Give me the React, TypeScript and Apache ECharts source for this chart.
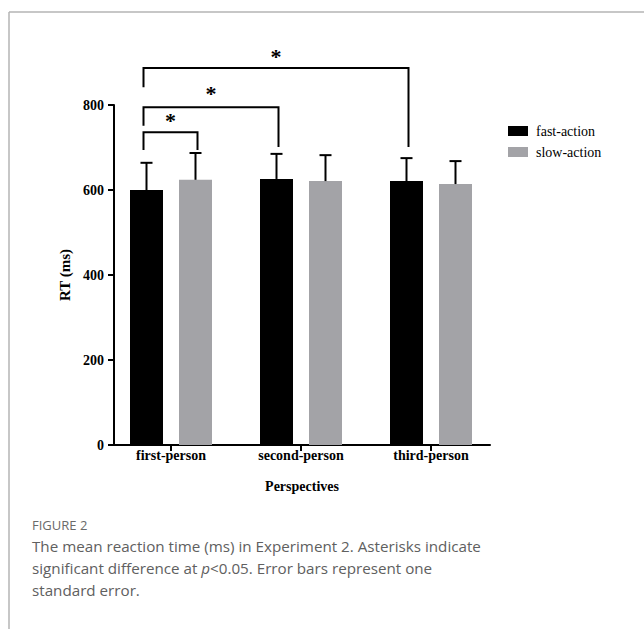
import React, { useEffect, useRef } from "react";
import * as echarts from "echarts";

const categories = ["first-person", "second-person", "third-person"];
const fastMean = [600, 626, 621];
const fastSE = [64, 59, 54];
const slowMean = [624, 621, 614];
const slowSE = [63, 61, 54];
const yTicks = { min: 0, max: 800, interval: 200 };
// [fromCat, fromSeries(0 fast / 1 slow), toCat, toSeries, leftFoot, top, rightFoot, starY]
const brackets = [
  [0, 0, 0, 1, 694, 736, 694, 769],
  [0, 0, 1, 0, 751, 795, 701, 831],
  [0, 0, 2, 0, 842, 887, 701, 920],
];
const legendNames = ["fast-action", "slow-action"];
const captionTitle = "FIGURE 2";
const captionLines = [
  "The mean reaction time (ms) in Experiment 2. Asterisks indicate",
  "significant difference at {i|p}<0.05. Error bars represent one",
  "standard error.",
];

const SERIF = "'Liberation Serif', 'Times New Roman', serif";
const SANS = "'Open Sans', 'Noto Sans', sans-serif";
const FAST = "#000000";
const SLOW = "#a3a3a7";
const BAR_W = 33;
const OFFSET = 24.5;

function barSeries(name: string, means: number[], se: number[], color: string, side: number) {
  return {
    name,
    type: "custom",
    coordinateSystem: "cartesian2d",
    clip: false,
    itemStyle: { color },
    data: means.map((m, i) => [i, m, m + se[i]]),
    renderItem: (params: any, api: any) => {
      const c = api.value(0);
      const top = api.coord([c, api.value(1)]);
      const base = api.coord([c, 0]);
      const err = api.coord([c, api.value(2)]);
      const cx = top[0] + side * OFFSET;
      return {
        type: "group",
        children: [
          {
            type: "rect",
            shape: { x: cx - BAR_W / 2, y: top[1], width: BAR_W, height: base[1] - top[1] },
            style: { fill: color },
          },
          {
            type: "line",
            shape: { x1: cx, y1: top[1], x2: cx, y2: err[1] },
            style: { stroke: "#000", lineWidth: 2 },
          },
          {
            type: "line",
            shape: { x1: cx - 6, y1: err[1], x2: cx + 6, y2: err[1] },
            style: { stroke: "#000", lineWidth: 2 },
          },
        ],
      };
    },
  };
}

export default function App() {
  const ref = useRef<HTMLDivElement>(null);
  useEffect(() => {
    if (!ref.current) return;
    const chart = echarts.init(ref.current, undefined, { renderer: "svg" });
    const option: any = {
      animation: false,
      backgroundColor: "#ffffff",
      grid: { left: 114, right: 154, top: 105, bottom: 184, containLabel: false },
      legend: {
        orient: "vertical",
        left: 503,
        top: 119,
        itemWidth: 20,
        itemHeight: 10,
        itemGap: 7,
        icon: "rect",
        data: legendNames,
        selectedMode: false,
        textStyle: { fontFamily: SERIF, fontSize: 14, color: "#000", padding: [0, 0, 0, 3] },
      },
      xAxis: {
        type: "value",
        min: -57 / 130,
        max: 319 / 130,
        name: "Perspectives",
        nameLocation: "middle",
        nameGap: 34,
        nameTextStyle: { fontFamily: SERIF, fontSize: 14, fontWeight: "bold", color: "#000" },
        axisLine: { show: true, onZero: false, lineStyle: { color: "#000", width: 2 } },
        axisTick: {
          show: true,
          inside: false,
          length: 6,
          lineStyle: { color: "#000", width: 2 },
          customValues: [0, 1, 2],
        },
        axisLabel: {
          customValues: [0, 1, 2],
          formatter: (v: number) => categories[Math.round(v)] ?? "",
          fontFamily: SERIF,
          fontSize: 14,
          fontWeight: "bold",
          color: "#000",
          margin: 3,
        },
        splitLine: { show: false },
      },
      yAxis: {
        type: "value",
        min: yTicks.min,
        max: yTicks.max,
        interval: yTicks.interval,
        name: "RT (ms)",
        nameLocation: "middle",
        nameGap: 38,
        nameTextStyle: { fontFamily: SERIF, fontSize: 15, fontWeight: "bold", color: "#000" },
        axisLine: { show: true, onZero: false, lineStyle: { color: "#000", width: 2 } },
        axisTick: { show: true, inside: false, length: 6, lineStyle: { color: "#000", width: 2 } },
        axisLabel: { fontFamily: SERIF, fontSize: 14, fontWeight: "bold", color: "#000", margin: 10 },
        splitLine: { show: false },
      },
      series: [
        barSeries(legendNames[0], fastMean, fastSE, FAST, -1),
        barSeries(legendNames[1], slowMean, slowSE, SLOW, 1),
        {
          type: "custom",
          coordinateSystem: "cartesian2d",
          clip: false,
          silent: true,
          data: brackets,
          renderItem: (params: any, api: any) => {
            const fc = api.value(0), fs = api.value(1), tc = api.value(2), ts = api.value(3);
            const lf = api.coord([fc, api.value(4)]);
            const tp = api.coord([fc, api.value(5)]);
            const rf = api.coord([tc, api.value(6)]);
            const st = api.coord([fc, api.value(7)]);
            const x1 = lf[0] + (fs === 0 ? -OFFSET : OFFSET) - 3;
            const x2 = rf[0] + (ts === 0 ? -OFFSET : OFFSET) + 2;
            return {
              type: "group",
              children: [
                {
                  type: "polyline",
                  shape: { points: [[x1, lf[1]], [x1, tp[1]], [x2, tp[1]], [x2, rf[1]]] },
                  style: { stroke: "#000", lineWidth: 2, fill: "none" },
                },
                {
                  type: "text",
                  x: (x1 + x2) / 2,
                  y: st[1] + 2,
                  style: {
                    text: "*",
                    fontFamily: SERIF,
                    fontSize: 22,
                    fontWeight: "bold",
                    fill: "#000",
                    align: "center",
                    verticalAlign: "middle",
                  },
                },
              ],
            };
          },
        },
      ],
      graphic: [
        { type: "line", shape: { x1: 9, y1: 12, x2: 644, y2: 12 }, style: { stroke: "#b4b4b4", lineWidth: 1.5 } },
        { type: "line", shape: { x1: 9, y1: 12, x2: 9, y2: 629 }, style: { stroke: "#b4b4b4", lineWidth: 1.5 } },
        {
          type: "text",
          left: 32,
          top: 518,
          style: { text: captionTitle, fontFamily: SANS, fontSize: 13, fill: "#6a6a6a" },
        },
        ...captionLines.map((t, i) => ({
          type: "text",
          left: 32,
          top: 538 + i * 22,
          style: {
            text: t,
            fontFamily: SANS,
            fontSize: 15.2,
            fill: "#606060",
            rich: { i: { fontFamily: SANS, fontSize: 15.2, fontStyle: "italic", fill: "#606060" } },
          },
        })),
      ],
    };
    chart.setOption(option);
    return () => chart.dispose();
  }, []);
  return (
    <div
      ref={ref}
      style={{ position: "fixed", left: 0, top: 0, width: 644, height: 629 }}
    />
  );
}
